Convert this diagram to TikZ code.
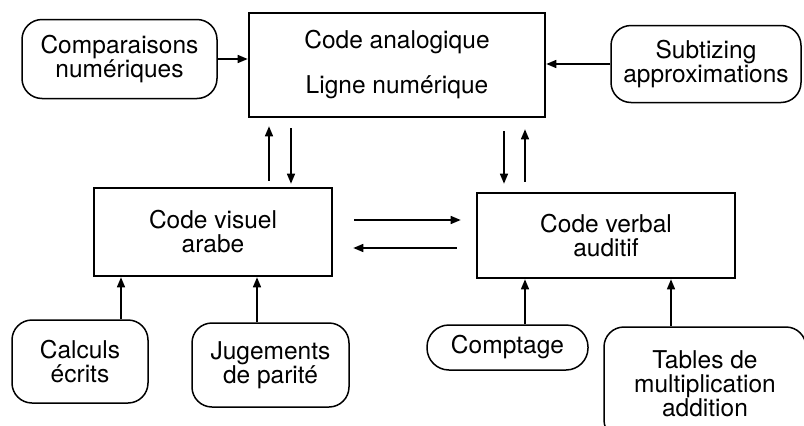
\documentclass[tikz,border=0pt]{standalone}
\usepackage{fontspec}
\setmainfont{TeX Gyre Heros}
\usetikzlibrary{arrows.meta}

\tikzset{
  codebox/.style={draw, line width=2.6pt, align=center, inner sep=0pt},
  taskbox/.style={draw, line width=1.5pt, rounded corners=20pt, align=center, inner sep=0pt},
  arr/.style={line width=1.4pt, -{Triangle[length=10pt,width=8pt]}},
}

\begin{document}
\begin{tikzpicture}[x=1pt, y=-1pt, font=\fontsize{24.5}{24}\selectfont]
\useasboundingbox (0,0) rectangle (804,426);
\clip (0,0) rectangle (804,426);

% codes
\node[codebox, minimum width=296pt, minimum height=104pt] (analog) at (397,65) {Code analogique\\[21pt]Ligne numérique};
\node[codebox, minimum width=238pt, minimum height=88pt] (visual) at (213,232) {Code visuel\\arabe};
\node[codebox, minimum width=258pt, minimum height=85pt] (verbal) at (606,235.5) {Code verbal\\auditif};

% tasks
\node[taskbox, minimum width=195pt, minimum height=79pt] (comp) at (119.5,59) {Comparaisons\\numériques};
\node[taskbox, minimum width=190pt, minimum height=77pt] (subt) at (706,64) {Subtizing\\approximations};
\node[taskbox, minimum width=136pt, minimum height=83pt] (calc) at (80,361.5) {Calculs\\écrits};
\node[taskbox, minimum width=157pt, minimum height=84pt] (jug) at (270.5,365) {Jugements\\de parité};
\node[taskbox, minimum width=161pt, minimum height=45pt, rounded corners=22pt] (compt) at (507.5,347.5) {Comptage};
\node[taskbox, minimum width=202pt, minimum height=113pt] (tables) at (705,383.5) {Tables de\\multiplication\\addition};

\draw[arr] (comp.east) -- (comp.east -| analog.west);
\draw[arr] (subt.west) -- (subt.west -| analog.east);

\draw[arr, shorten <=6pt, shorten >=8pt] ([xshift=-128pt]analog.south |- visual.north) -- ([xshift=-128pt]analog.south);
\draw[arr, shorten <=10pt, shorten >=3pt] ([xshift=-106pt]analog.south) -- ([xshift=-106pt]analog.south |- visual.north);
\draw[arr, shorten <=13pt, shorten >=8pt] ([xshift=107pt]analog.south) -- ([xshift=107pt]analog.south |- verbal.north);
\draw[arr, shorten <=10pt, shorten >=11pt] ([xshift=128pt]analog.south |- verbal.north) -- ([xshift=128pt]analog.south);

\draw[arr, shorten <=21pt, shorten >=15pt] ([yshift=12pt]visual.east) -- ([yshift=12pt]visual.east -| verbal.west);
\draw[arr, shorten <=19pt, shorten >=20pt] ([yshift=-16pt]visual.east -| verbal.west) -- ([yshift=-16pt]visual.east);

\draw[arr] ([xshift=41pt]calc.north) -- ([xshift=41pt]calc.north |- visual.south);
\draw[arr] ([xshift=-13.5pt]jug.north) -- ([xshift=-13.5pt]jug.north |- visual.south);
\draw[arr] ([xshift=17.5pt]compt.north) -- ([xshift=17.5pt]compt.north |- verbal.south);
\draw[arr] ([xshift=-34pt]tables.north) -- ([xshift=-34pt]tables.north |- verbal.south);
\end{tikzpicture}
\end{document}
